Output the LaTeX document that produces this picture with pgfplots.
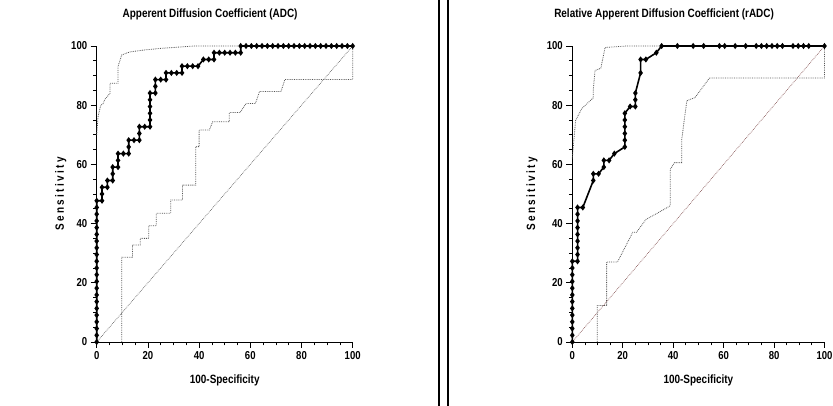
\documentclass[border=0pt]{standalone}
\usepackage{fontspec}
\setmainfont{Liberation Sans}[FakeStretch=0.83]
\newfontfamily\spacedfont{Liberation Sans}[FakeStretch=0.83, LetterSpace=20]
\usepackage{pgfplots}
\pgfplotsset{compat=1.18}

\definecolor{bandgray}{HTML}{555555}
\definecolor{diaggray}{HTML}{666666}
\definecolor{diagred}{HTML}{8A5A5A}

\pgfplotsset{
  rocaxis/.style={
    scale only axis, height=296pt,
    xmin=0, xmax=100, ymin=0, ymax=100,
    axis x line=bottom, axis y line=left,
    axis line style={black, line width=0.9pt, -},
    xtick={0,20,...,100}, ytick={0,20,...,100},
    minor tick num=3,
    tick align=outside,
    major tick length=6pt, minor tick length=3.5pt,
    tick style={black, line width=0.8pt},
    /pgf/number format/assume math mode=true,
    tick label style={font=\fontsize{11.5}{12}\selectfont\bfseries},
    xlabel style={font=\fontsize{12}{13}\selectfont\bfseries,
      at={(axis description cs:0.5,-0.13)}, anchor=center},
    ylabel style={font=\fontsize{12}{13}\selectfont\bfseries\spacedfont,
      anchor=center},
    title style={font=\fontsize{12}{13}\selectfont\bfseries, anchor=center},
    xlabel={100-Specificity}, ylabel={Sensitivity},
    clip=false,
  },
  roc/.style={black, line width=1.6pt, mark=diamond*, mark size=1.8pt,
    mark options={solid}},
  band/.style={bandgray, line width=0.8pt, densely dotted},
}

\begin{document}
\begin{tikzpicture}[x=1pt, y=1pt]
\path[use as bounding box] (0,0) rectangle (833,406);

% separator
\draw[black, line width=1.6pt] (439,0) -- (439,406);
\draw[black, line width=1.6pt] (448,0) -- (448,406);

% ---------- ADC ----------
\begin{axis}[rocaxis, width=256pt, at={(96.7pt,64pt)}, anchor=south west,
  title={Apperent Diffusion Coefficient (ADC)},
  title style={at={(axis description cs:0.443,1.088)}},
  ylabel style={at={(axis description cs:-0.14,0.5)}}]
\addplot[diaggray, line width=0.7pt, densely dotted] coordinates {(0,0) (100,100)};
\addplot[band] coordinates {
  (0,70) (0.5,76) (1.6,80) (2.5,80.5) (3.2,82) (5.2,84) (5.2,87.4) (8.3,87.4)
  (8.3,93) (9.8,97) (13,98) (18,98.6) (25,99.2) (30,99.5) (38,100) (100,100)};
\addplot[band] coordinates {
  (9.8,0) (9.8,28.6) (14,28.6) (14,32.8) (17,32.8) (17,35) (20.3,35) (20.3,39.3)
  (23.3,39.3) (23.3,43.5) (28.9,43.5) (28.9,48) (33.5,48) (33.5,53) (38.7,53)
  (38.7,66) (40,66) (40,71.6) (44,71.6) (45.3,74.4) (51.8,74.4) (51.8,77.5)
  (56,77.5) (58.4,80.6) (62,80.6) (63.6,84.6) (72,84.6) (73.5,88.7) (100,88.7)
  (100,100)};
\addplot[roc] coordinates {
  (0,0) (0,2.27) (0,4.55) (0,6.82) (0,9.09) (0,11.36) (0,13.64) (0,15.91)
  (0,18.18) (0,20.45) (0,22.73) (0,25.00) (0,27.27) (0,29.55) (0,31.82)
  (0,34.09) (0,36.36) (0,38.64) (0,40.91) (0,43.18) (0,45.45) (0,47.73)
  (2.08,47.73) (2.08,50.00) (2.08,52.27) (4.17,52.27) (4.17,54.55)
  (6.25,54.55) (6.25,56.82) (6.25,59.09) (8.33,59.09) (8.33,61.36)
  (8.33,63.64) (10.42,63.64) (12.50,63.64) (12.50,65.91) (12.50,68.18)
  (14.58,68.18) (16.67,68.18) (16.67,70.45) (16.67,72.73) (18.75,72.73)
  (20.83,72.73) (20.83,75.00) (20.83,77.27) (20.83,79.55) (20.83,81.82)
  (20.83,84.09) (22.92,84.09) (22.92,86.36) (22.92,88.64) (25.00,88.64)
  (27.08,88.64) (27.08,90.91) (29.17,90.91) (31.25,90.91) (33.33,90.91)
  (33.33,93.18) (35.42,93.18) (37.50,93.18) (39.58,93.18) (41.67,95.45)
  (43.75,95.45) (45.83,95.45) (45.83,97.73) (47.92,97.73) (50.00,97.73)
  (52.08,97.73) (54.17,97.73) (56.25,97.73) (56.25,100) (58.33,100)
  (60.42,100) (62.50,100) (64.58,100) (66.67,100) (68.75,100) (70.83,100)
  (72.92,100) (75.00,100) (77.08,100) (79.17,100) (81.25,100) (83.33,100)
  (85.42,100) (87.50,100) (89.58,100) (91.67,100) (93.75,100) (95.83,100)
  (97.92,100) (100,100)};
\end{axis}

% ---------- rADC ----------
\begin{axis}[rocaxis, width=252.2pt, at={(572.3pt,64pt)}, anchor=south west,
  title={Relative Apperent Diffusion Coefficient (rADC)},
  title style={at={(axis description cs:0.364,1.088)}},
  ylabel style={at={(axis description cs:-0.16,0.5)}}]
\addplot[diagred, line width=0.7pt, densely dotted] coordinates {(0,0) (100,100)};
\addplot[band] coordinates {
  (0,62) (0.4,66) (1.3,74.8) (3.7,78.8) (8.3,82.5) (8.3,85) (9,91.7)
  (11.3,92.5) (13,99.5) (21.6,100) (100,100)};
\addplot[band] coordinates {
  (9.9,0) (9.9,12.3) (13.6,12.3) (13.6,27) (17.9,27) (24,37.1) (25.5,37.1)
  (29.2,41.4) (34.1,43.7) (38.8,46) (38.8,58.3) (40.5,60.6) (43.4,60.6)
  (43.4,68.5) (45.4,81.5) (48.7,82.6) (54.4,89.2) (100,89.2) (100,100)};
\addplot[roc] coordinates {
  (0,0) (0,2.27) (0,4.55) (0,6.82) (0,9.09) (0,11.36) (0,13.64) (0,15.91)
  (0,18.18) (0,20.45) (0,22.73) (0,25.00) (0,27.27) (2.08,27.27)
  (2.08,29.55) (2.08,31.82) (2.08,34.09) (2.08,36.36) (2.08,38.64)
  (2.08,40.91) (2.08,43.18) (2.08,45.45) (4.17,45.45) (8.33,54.55)
  (8.33,56.82) (10.42,56.82) (12.50,59.09) (12.50,61.36) (14.58,61.36)
  (16.67,63.64) (20.83,65.91) (20.83,68.18) (20.83,70.45) (20.83,72.73)
  (20.83,75.00) (20.83,77.27) (22.92,79.55) (25.00,79.55) (25.00,81.82)
  (25.00,84.09) (27.08,90.91) (27.08,95.45) (29.17,95.45) (33.33,97.73)
  (35.42,100) (41.67,100) (47.92,100) (52.08,100) (58.33,100) (60.42,100)
  (64.58,100) (68.75,100) (72.92,100) (75.00,100) (77.08,100) (79.17,100)
  (81.25,100) (83.33,100) (87.50,100) (89.58,100) (91.67,100) (93.75,100)
  (100,100)};
\end{axis}
\end{tikzpicture}
\end{document}
